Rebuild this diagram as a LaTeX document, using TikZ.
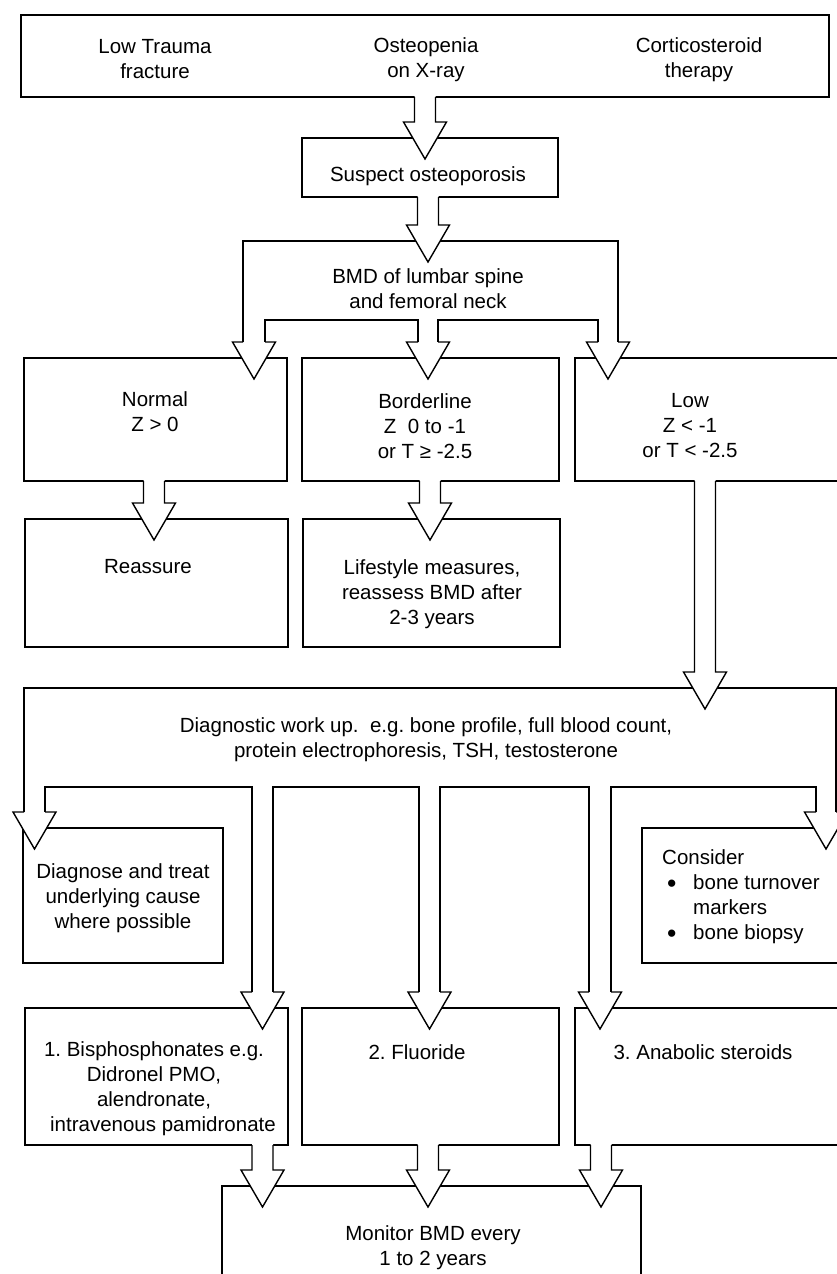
\documentclass[tikz,border=0pt]{standalone}
\usepackage{fontspec}
\setmainfont{Liberation Sans}
\usetikzlibrary{calc}
\def\sw{10.5pt}
\def\hw{21.5pt}
\newcommand\bul{\raisebox{-0.12em}{\scalebox{1.3}{\textbullet}}}
\tikzset{
  ln/.style={line width=1.4pt, line join=miter},
  box/.style={draw, ln, rectangle, inner sep=0pt, outer sep=0pt, anchor=north west},
  txt/.style={align=center, inner sep=0pt},
}
% hollow block arrow from the bottom of one node to the top of another
\newcommand\barr[3]{%
  \fill[white] let \p1=(#2), \p2=(#3) in
    (#1pt-\sw,\y1+1.5pt) -- (#1pt-\sw,\y2+16pt) -- (#1pt-\hw,\y2+16pt) -- (#1pt,\y2-21pt)
    -- (#1pt+\hw,\y2+16pt) -- (#1pt+\sw,\y2+16pt) -- (#1pt+\sw,\y1+1.5pt) -- cycle;
  \draw[ln] let \p1=(#2), \p2=(#3) in
    (#1pt-\sw,\y1) -- (#1pt-\sw,\y2+16pt) -- (#1pt-\hw,\y2+16pt) -- (#1pt,\y2-21pt)
    -- (#1pt+\hw,\y2+16pt) -- (#1pt+\sw,\y2+16pt) -- (#1pt+\sw,\y1);
}
% head of a branch arrow: centre, shaft left, shaft right, target node anchor
\newcommand\bhead[4]{%
  \filldraw[ln, fill=white] let \p2=(#4) in
    (#2pt,\y2+16pt) -- (#1pt-\hw,\y2+16pt) -- (#1pt,\y2-21pt) -- (#1pt+\hw,\y2+16pt) -- (#3pt,\y2+16pt);
}
\begin{document}
\begin{tikzpicture}[x=1pt,y=-1pt,font=\fontsize{20.5}{25}\selectfont\frenchspacing]
\useasboundingbox (0,0) rectangle (837,1274);
\fill[white] (0,0) rectangle (837,1274);

% ---------- boxes ----------
\node[box, minimum width=808pt, minimum height=82pt]  (top)      at (21,15)   {};
\node[box, minimum width=256pt, minimum height=59pt]  (susp)     at (302,138) {};
\node[box, minimum width=263pt, minimum height=123pt] (normal)   at (24,358)  {};
\node[box, minimum width=257pt, minimum height=123pt] (border)   at (302,358) {};
\node[box, minimum width=275pt, minimum height=123pt] (low)      at (575,358) {};
\node[box, minimum width=263pt, minimum height=128pt] (reassure) at (25,519)  {};
\node[box, minimum width=257pt, minimum height=128pt] (life)     at (303,519) {};
\node[box, minimum width=200pt, minimum height=135pt] (diagnose) at (23,828)  {};
\node[box, minimum width=208pt, minimum height=135pt] (consider) at (642,828) {};
\node[box, minimum width=263pt, minimum height=137pt] (bisph)    at (25,1008) {};
\node[box, minimum width=257pt, minimum height=137pt] (fluor)    at (302,1008) {};
\node[box, minimum width=275pt, minimum height=137pt] (anab)     at (575,1008) {};
\node[box, minimum width=419pt, minimum height=114pt] (monitor)  at (222,1186) {};

\coordinate (bmdtop) at (428,241);
\coordinate (diagtop) at (705,688);

% ---------- BMD branching arrow ----------
\draw[ln] (243,342) -- (243,241) -- (618,241) -- (618,342);
\draw[ln] (265,342) -- (265,320) -- (418,320) -- (418,342);
\draw[ln] (438,342) -- (438,320) -- (598,320) -- (598,342);

% ---------- diagnostic work-up branching arrow ----------
\draw[ln] (24,812) -- (24,688) -- (836,688) -- (836,812);
\draw[ln] (45,812) -- (45,787) -- (252,787) -- (252,992);
\draw[ln] (273,992) -- (273,787) -- (419,787) -- (419,992);
\draw[ln] (440,992) -- (440,787) -- (589,787) -- (589,992);
\draw[ln] (611,992) -- (611,787) -- (816,787) -- (816,812);

% ---------- simple block arrows ----------
\barr{425}{top.south}{susp.north}
\barr{428}{susp.south}{bmdtop}
\barr{154}{normal.south}{reassure.north}
\barr{430}{border.south}{life.north}
\barr{705}{low.south}{diagtop}
\barr{262.5}{bisph.south}{monitor.north}
\barr{428}{fluor.south}{monitor.north}
\barr{601}{anab.south}{monitor.north}

% ---------- heads of branching arrows ----------
\bhead{254}{243}{265}{normal.north}
\bhead{428}{418}{438}{border.north}
\bhead{608}{598}{618}{low.north}
\bhead{34.5}{24}{45}{diagnose.north}
\bhead{262.5}{252}{273}{bisph.north}
\bhead{429.5}{419}{440}{fluor.north}
\bhead{600}{589}{611}{anab.north}
\bhead{826}{816}{836}{consider.north}

% ---------- texts ----------
\node[txt] (t1) at (155,59.5) {Low Trauma\\fracture};
\node[txt] (t2) at (426,59.5) {Osteopenia\\on X-ray};
\node[txt] (t3) at (699,59.5) {Corticosteroid\\therapy};
\node[txt] (tsusp) at (428,176) {Suspect osteoporosis};
\node[txt] (bmd) at (428,288.5) {BMD of lumbar spine\\and femoral neck};
\node[txt] (tnormal) at (155,411.5) {Normal\\Z > 0};
\node[txt] (tborder) at (425,426) {Borderline\\Z\ \ 0 to -1\\or T ≥ -2.5};
\node[txt] (tlow) at (690,426) {Low\\Z < -1\\or T < -2.5};
\node[txt] (treass) at (148,567) {Reassure};
\node[txt] (tlife) at (432,594) {Lifestyle measures,\\reassess BMD after\\2-3 years};
\node[txt] (diag) at (426,739.5) {Diagnostic work up.\ \ e.g. bone profile, full blood count,\\protein electrophoresis, TSH, testosterone};
\node[txt] (tdiagnose) at (123,898) {Diagnose and treat\\underlying cause\\where possible};
\node[align=left, inner sep=0pt, anchor=west] (tcons) at (662,897)
  {Consider\\\hspace*{5pt}\makebox[26pt][l]{\bul}bone turnover\\\hspace*{31pt}markers\\\hspace*{5pt}\makebox[26pt][l]{\bul}bone biopsy};
\node[txt] (tbis) at (154,1088.5) {1. Bisphosphonates e.g.\\Didronel PMO,\\alendronate,\\\hspace*{18pt}intravenous pamidronate};
\node[txt] (tfl) at (417,1052) {2. Fluoride};
\node[txt] (tan) at (703,1052) {3. Anabolic steroids};
\node[txt] (tmon) at (433,1247.5) {Monitor BMD every\\1 to 2 years};
\end{tikzpicture}
\end{document}
